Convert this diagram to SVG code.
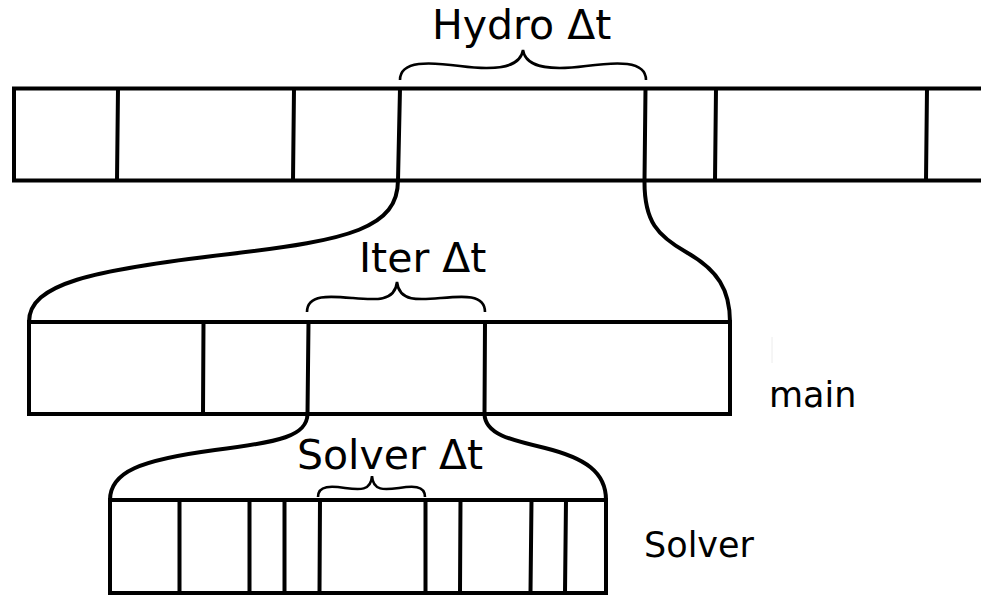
<svg xmlns="http://www.w3.org/2000/svg" width="981" height="597" viewBox="0 0 981 597">
  <style>
    .bar { fill: none; stroke: #000; stroke-width: 4; }
    .div { fill: none; stroke: #000; stroke-width: 4; }
    .link { fill: none; stroke: #000; stroke-width: 4; }
    .brace { fill: none; stroke: #000; stroke-width: 2.6; }
    .lbl { font-family: "DejaVu Sans", "Liberation Sans", sans-serif; fill: #000; }
    .big { font-size: 41px; }
    .small { font-size: 35px; }
  </style>
  <rect width="981" height="597" fill="#fff"/>

  <!-- Hydro time-step bar -->
  <g id="hydro">
    <path class="bar" d="M990,88.5 H14 V180.5 H990"/>
    <path class="div" d="M118,88.5 L117,180.5 M294,88.5 L293,180.5 M400,88.5 L398,180.5 M645.5,88.5 L644.5,180.5 M716,88.5 L715,180.5 M927,88.5 L926,180.5"/>
    <path class="brace" d="M400,80 C400,60 430,62 460,66 C490,70 520,70 523,50 C526,70 556,70 586,66 C616,62 646,60 646,80"/>
    <text class="lbl big" x="432" y="39">Hydro Δt</text>
  </g>

  <!-- Main (iteration) bar -->
  <g id="main">
    <rect class="bar" x="29" y="322" width="701" height="92"/>
    <path class="div" d="M203.5,322 L203,414 M308.5,322 L307.5,414 M485,322 L484.5,414"/>
    <path class="brace" d="M307,312 C307,294 330,296 352,298 C375,300 395,302 397,282 C399,302 419,300 441,298 C463,296 485,294 485,312"/>
    <text class="lbl big" x="359" y="272">Iter Δt</text>
    <line x1="772" y1="337" x2="772" y2="363" stroke="#ececec" stroke-width="1"/>
    <text class="lbl small" x="769" y="407">main</text>
  </g>

  <!-- Solver sub-step bar -->
  <g id="solver">
    <rect class="bar" x="110" y="500" width="496" height="93"/>
    <path class="div" d="M179.5,500 V593 M249.5,500 V593 M284.5,500 V593 M320,500 L319.5,593 M425.5,500 V593 M460.5,500 L460,593 M531.5,500 L530.5,593 M566,500 L565,593"/>
    <path class="brace" d="M318,497 C318,485 332,486 345,488 C360,490 371,491 372,476 C373,491 384,490 399,488 C412,486 425,485 425,497"/>
    <text class="lbl big" x="297" y="469">Solver Δt</text>
    <text class="lbl small" x="644" y="557">Solver</text>
  </g>

  <!-- Zoom connectors between levels -->
  <g id="connectors">
    <path class="link" d="M398,180 C398,228 350,240 230,254 C90,270 29,284 29,322"/>
    <path class="link" d="M644.5,180 C644,222 658,236 686,252 C718,270 730,290 730,322"/>
    <path class="link" d="M307.5,414 C307,436 280,442 215,450 C140,460 110,472 110,500"/>
    <path class="link" d="M484.5,414 C485,434 510,440 545,448 C585,458 606,472 606,500"/>
  </g>
</svg>
